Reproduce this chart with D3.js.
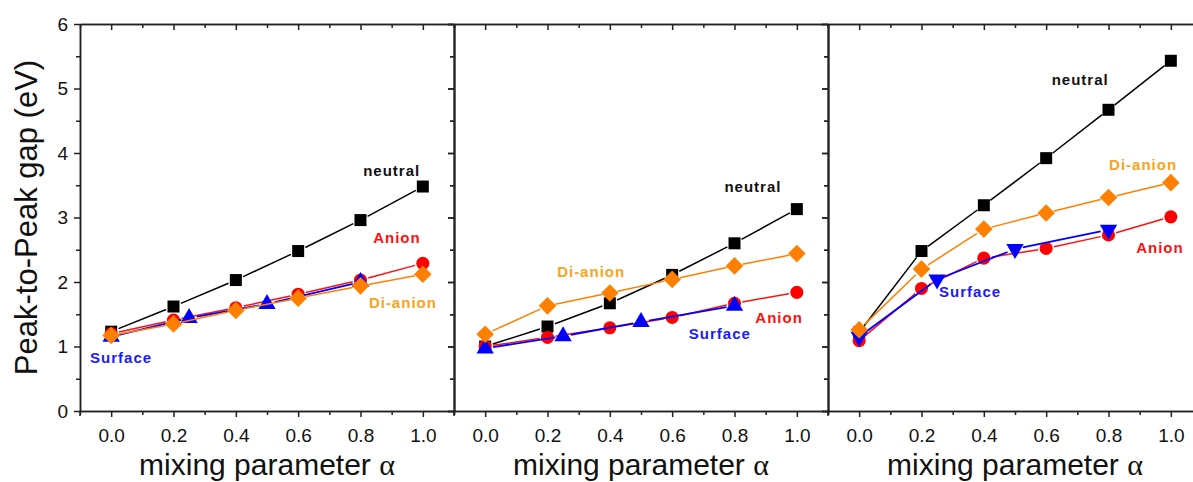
<!DOCTYPE html>
<html><head><meta charset="utf-8">
<script src="https://cdn.jsdelivr.net/npm/d3@7"></script>
<style>
html,body{margin:0;padding:0;background:#fff;}
svg{display:block;}
</style></head>
<body>
<svg id="chart" width="1193" height="482"></svg>
<script>
// ---------- data ----------
const alphaMain = [0.0, 0.2, 0.4, 0.6, 0.8, 1.0];
const alphaSurface = [0.0, 0.25, 0.5, 0.8];

const p1Neutral = [1.23, 1.62, 2.03, 2.48, 2.96, 3.48];
const p1Anion   = [1.20, 1.41, 1.60, 1.81, 2.03, 2.29];
const p1Dianion = [1.17, 1.35, 1.56, 1.75, 1.94, 2.12];
const p1Surface = [1.15, 1.44, 1.66, 2.00];

const p2Neutral = [1.00, 1.31, 1.67, 2.11, 2.60, 3.13];
const p2Anion   = [1.00, 1.14, 1.29, 1.45, 1.67, 1.84];
const p2Dianion = [1.19, 1.63, 1.83, 2.04, 2.25, 2.44];
const p2Surface = [0.97, 1.16, 1.38, 1.63];

const p3Neutral = [1.22, 2.48, 3.19, 3.92, 4.67, 5.43];
const p3Anion   = [1.09, 1.90, 2.37, 2.52, 2.73, 3.01];
const p3Dianion = [1.26, 2.20, 2.82, 3.07, 3.31, 3.54];
const p3Surface = [1.15, 2.04, 2.51, 2.81];

const xTickMajor = [0.0, 0.2, 0.4, 0.6, 0.8, 1.0];
const xTickMinor = [-0.1, 0.1, 0.3, 0.5, 0.7, 0.9, 1.1];
const yTickMajor = [0, 1, 2, 3, 4, 5, 6];
const yTickMinor = [0.5, 1.5, 2.5, 3.5, 4.5, 5.5];

const seriesNames = ["neutral", "Anion", "Surface", "Di-anion"];
// label anchors in data units [alpha, gap] per panel, same order as seriesNames
const p1Labels = [[0.90, 3.65], [0.917, 2.60], [0.032, 0.75], [0.936, 1.60]];
const p2Labels = [[0.859, 3.40], [0.943, 1.372], [0.753, 1.124], [0.340, 2.085]];
const p3Labels = [[0.709, 5.06], [0.965, 2.457], [0.356, 1.76], [0.911, 3.744]];

const xLabel = "mixing parameter ";
const yLabel = "Peak-to-Peak gap (eV)";

// ---------- style ----------
const colors = {
  "neutral":  {line: "#000000", mark: "#000000", text: "#111111"},
  "Anion":    {line: "#ff1010", mark: "#ff0000", text: "#ff1010"},
  "Surface":  {line: "#0000ff", mark: "#0000ff", text: "#1a1aff"},
  "Di-anion": {line: "#ff8000", mark: "#ff8000", text: "#f8a420"}
};

const panels = [
  {x0: 80,  n: p1Neutral, a: p1Anion, d: p1Dianion, s: p1Surface, labels: p1Labels, down: false, yLabels: true},
  {x0: 454, n: p2Neutral, a: p2Anion, d: p2Dianion, s: p2Surface, labels: p2Labels, down: false, yLabels: false},
  {x0: 828, n: p3Neutral, a: p3Anion, d: p3Dianion, s: p3Surface, labels: p3Labels, down: true,  yLabels: false}
];

const panelW = 374, plotTop = 24, plotBottom = 411;
const svg = d3.select("#chart");
const y = d3.scaleLinear().domain([0, 6]).range([plotBottom, plotTop]);
const FONT = "'Liberation Sans', Arial, Helvetica, sans-serif";
const axisColor = "#222";

function styleAxis(g) {
  g.select(".domain").attr("stroke", axisColor).attr("stroke-width", 1.5);
  g.selectAll(".tick line").attr("stroke", axisColor).attr("stroke-width", 1.5);
  g.selectAll(".tick text").attr("font-family", FONT).attr("font-size", 19).attr("fill", "#111");
}

function segs(g, pts, color, gap, width) {
  for (let i = 0; i < pts.length - 1; i++) {
    const [x1, y1] = pts[i], [x2, y2] = pts[i + 1];
    const dx = x2 - x1, dy = y2 - y1, L = Math.hypot(dx, dy);
    if (L <= 2 * gap) continue;
    const ux = dx / L, uy = dy / L;
    g.append("line")
      .attr("x1", x1 + ux * gap).attr("y1", y1 + uy * gap)
      .attr("x2", x2 - ux * gap).attr("y2", y2 - uy * gap)
      .attr("stroke", color).attr("stroke-width", width);
  }
}

panels.forEach((p, pi) => {
  const x = d3.scaleLinear().domain([-0.1, 1.1]).range([p.x0, p.x0 + panelW]);
  const g = svg.append("g");

  const bMaj = g.append("g").attr("transform", `translate(0,${plotBottom})`)
    .call(d3.axisBottom(x).tickValues(xTickMajor).tickFormat(d3.format(".1f")).tickSize(6).tickSizeOuter(0).tickPadding(12));
  styleAxis(bMaj);
  const bMin = g.append("g").attr("transform", `translate(0,${plotBottom})`)
    .call(d3.axisBottom(x).tickValues(xTickMinor).tickFormat("").tickSize(4).tickSizeOuter(0));
  styleAxis(bMin);
  const tMaj = g.append("g").attr("transform", `translate(0,${plotTop})`)
    .call(d3.axisTop(x).tickValues(xTickMajor).tickFormat("").tickSize(-6).tickSizeOuter(0));
  styleAxis(tMaj);
  const tMin = g.append("g").attr("transform", `translate(0,${plotTop})`)
    .call(d3.axisTop(x).tickValues(xTickMinor).tickFormat("").tickSize(-4).tickSizeOuter(0));
  styleAxis(tMin);

  const lMaj = g.append("g").attr("transform", `translate(${p.x0},0)`)
    .call(d3.axisLeft(y).tickValues(yTickMajor).tickFormat(p.yLabels ? d3.format("d") : "").tickSize(6).tickSizeOuter(0).tickPadding(6));
  styleAxis(lMaj);
  const lMin = g.append("g").attr("transform", `translate(${p.x0},0)`)
    .call(d3.axisLeft(y).tickValues(yTickMinor).tickFormat("").tickSize(4).tickSizeOuter(0));
  styleAxis(lMin);
  const rMaj = g.append("g").attr("transform", `translate(${p.x0 + panelW},0)`)
    .call(d3.axisRight(y).tickValues(yTickMajor).tickFormat("").tickSize(-6).tickSizeOuter(0));
  styleAxis(rMaj);
  const rMin = g.append("g").attr("transform", `translate(${p.x0 + panelW},0)`)
    .call(d3.axisRight(y).tickValues(yTickMinor).tickFormat("").tickSize(-4).tickSizeOuter(0));
  styleAxis(rMin);
  g.append("line").attr("x1", p.x0).attr("x2", p.x0).attr("y1", plotBottom).attr("y2", plotBottom + 5)
    .attr("stroke", axisColor).attr("stroke-width", 1.5);

  const series = [
    {name: "neutral", xs: alphaMain, ys: p.n, sym: "square"},
    {name: "Anion", xs: alphaMain, ys: p.a, sym: "circle"},
    {name: "Surface", xs: alphaSurface, ys: p.s, sym: p.down ? "down" : "up"},
    {name: "Di-anion", xs: alphaMain, ys: p.d, sym: "diamond"}
  ];
  series.forEach(s => {
    const c = colors[s.name];
    const pts = s.xs.map((a, i) => [x(a), y(s.ys[i])]);
    const sg = g.append("g");
    segs(sg, pts, c.line, 8, s.name === "Surface" ? 1.8 : 1.5);
    pts.forEach(([px, py]) => {
      let path, rot = 0;
      if (s.sym === "square") path = d3.symbol(d3.symbolSquare, 144)();
      else if (s.sym === "circle") path = d3.symbol(d3.symbolCircle, 135)();
      else if (s.sym === "diamond") { path = d3.symbol(d3.symbolSquare, 155)(); rot = 45; }
      else { path = d3.symbol(d3.symbolTriangle, 130)(); rot = s.sym === "down" ? 180 : 0; }
      sg.append("path").attr("d", path)
        .attr("transform", `translate(${px},${py}) rotate(${rot})`)
        .attr("fill", c.mark);
    });
  });

  seriesNames.forEach((nm, i) => {
    const [lx, ly] = p.labels[i];
    g.append("text").attr("x", x(lx)).attr("y", y(ly))
      .attr("text-anchor", "middle")
      .attr("font-family", FONT).attr("font-weight", "bold").attr("font-size", 15)
      .attr("letter-spacing", 1)
      .attr("fill", colors[nm].text).text(nm);
  });

  const t = g.append("text").attr("x", p.x0 + panelW / 2).attr("y", 475)
    .attr("text-anchor", "middle").attr("font-family", FONT).attr("font-size", 30).attr("fill", "#111");
  t.append("tspan").text(xLabel);
  t.append("tspan").attr("font-family", "'Liberation Serif', 'Times New Roman', serif").text("α");
});

svg.append("text")
  .attr("transform", `translate(37,${(plotTop + plotBottom) / 2}) rotate(-90)`)
  .attr("text-anchor", "middle").attr("font-family", FONT).attr("font-size", 31).attr("fill", "#111")
  .text(yLabel);
</script>
</body></html>
